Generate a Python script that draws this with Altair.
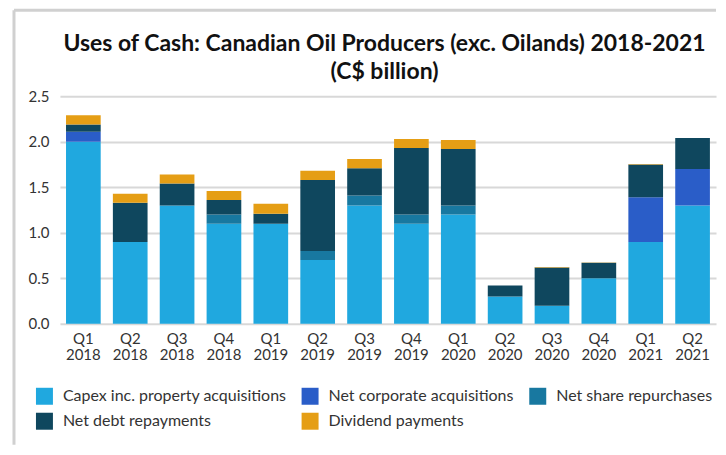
import altair as alt
import pandas as pd

quarters = ["Q1 2018", "Q2 2018", "Q3 2018", "Q4 2018", "Q1 2019", "Q2 2019", "Q3 2019",
            "Q4 2019", "Q1 2020", "Q2 2020", "Q3 2020", "Q4 2020", "Q1 2021", "Q2 2021"]
series = ["Capex inc. property acquisitions", "Net corporate acquisitions",
          "Net share repurchases", "Net debt repayments", "Dividend payments"]
colors = ["#20A8DF", "#2A5DC8", "#1878A0", "#0F475E", "#E59E15"]

capex = [2.0, 0.9, 1.3, 1.1, 1.1, 0.7, 1.3, 1.1, 1.2, 0.3, 0.2, 0.5, 0.9, 1.3]
corp = [0.11, 0, 0, 0, 0, 0, 0, 0, 0, 0, 0, 0, 0.49, 0.40]
share = [0, 0, 0, 0.1, 0, 0.1, 0.11, 0.1, 0.1, 0, 0, 0, 0, 0]
debt = [0.08, 0.43, 0.24, 0.16, 0.11, 0.78, 0.30, 0.73, 0.62, 0.12, 0.42, 0.17, 0.36, 0.34]
dividend = [0.1, 0.1, 0.1, 0.1, 0.11, 0.1, 0.1, 0.1, 0.1, 0, 0.005, 0.005, 0.005, 0]

title_lines = ["Uses of Cash: Canadian Oil Producers (exc. Oilands) 2018-2021", "(C$ billion)"]

rows = []
for k, (name, vals) in enumerate(zip(series, [capex, corp, share, debt, dividend])):
    for q, v in zip(quarters, vals):
        rows.append({"quarter": q, "series": name, "value": v, "k": k})
df = pd.DataFrame(rows)

FONT = "Lato"
W = 657

bars = alt.Chart(df).mark_bar().encode(
    x=alt.X("quarter:N", sort=quarters,
            scale=alt.Scale(paddingInner=0.26, paddingOuter=0.13),
            axis=alt.Axis(title=None, labelAngle=0, ticks=False, domain=False,
                          labelExpr="split(datum.label, ' ')", labelFontSize=15,
                          labelLineHeight=16, labelPadding=8, labelColor="#333333",
                          labelFont=FONT)),
    y=alt.Y("value:Q", stack="zero",
            scale=alt.Scale(domain=[0, 2.5], nice=False),
            axis=alt.Axis(title=None, values=[0, 0.5, 1.0, 1.5, 2.0, 2.5], format=".1f",
                          ticks=False, domain=False, gridColor="#d8d8d8", gridWidth=2,
                          labelFontSize=15, labelPadding=11, labelColor="#333333",
                          labelFont=FONT)),
    color=alt.Color("series:N", sort=series,
                    scale=alt.Scale(domain=series, range=colors),
                    legend=alt.Legend(title=None, orient="none", legendX=-24, legendY=292,
                                      direction="horizontal", columns=3,
                                      symbolType="square", symbolSize=289,
                                      symbolStrokeWidth=0, labelFontSize=16,
                                      labelFont=FONT, labelColor="#333333", labelLimit=0,
                                      labelOffset=10, columnPadding=15, rowPadding=8)),
    order=alt.Order("k:Q", sort="ascending"),
)

dummy = pd.DataFrame({"a": [0]})
left_frame = alt.Chart(dummy).mark_rule(color="#d0d0d0", strokeWidth=3).encode(
    x=alt.value(-46), y=alt.value(-86), y2=alt.value(349))
top_frame = alt.Chart(dummy).mark_rule(color="#d0d0d0", strokeWidth=3).encode(
    x=alt.value(-46), x2=alt.value(W), y=alt.value(-86))

title_df = pd.DataFrame({"line": title_lines, "i": [0, 1]})
title1 = alt.Chart(title_df).transform_filter("datum.i == 0").mark_text(
    font=FONT, fontSize=23, fontWeight="bold", color="#111111", align="center",
    baseline="middle").encode(text="line:N", x=alt.value(325), y=alt.value(-52))
title2 = alt.Chart(title_df).transform_filter("datum.i == 1").mark_text(
    font=FONT, fontSize=23, fontWeight="bold", color="#111111", align="center",
    baseline="middle").encode(text="line:N", x=alt.value(325), y=alt.value(-24))

chart = alt.layer(left_frame, top_frame, title1, title2, bars).properties(
    width=W, height=228,
    padding={"left": 4, "top": 0, "right": 0, "bottom": 0},
).configure_view(stroke=None)

chart.save("out.html", embed_options={"renderer": "svg", "actions": False})
